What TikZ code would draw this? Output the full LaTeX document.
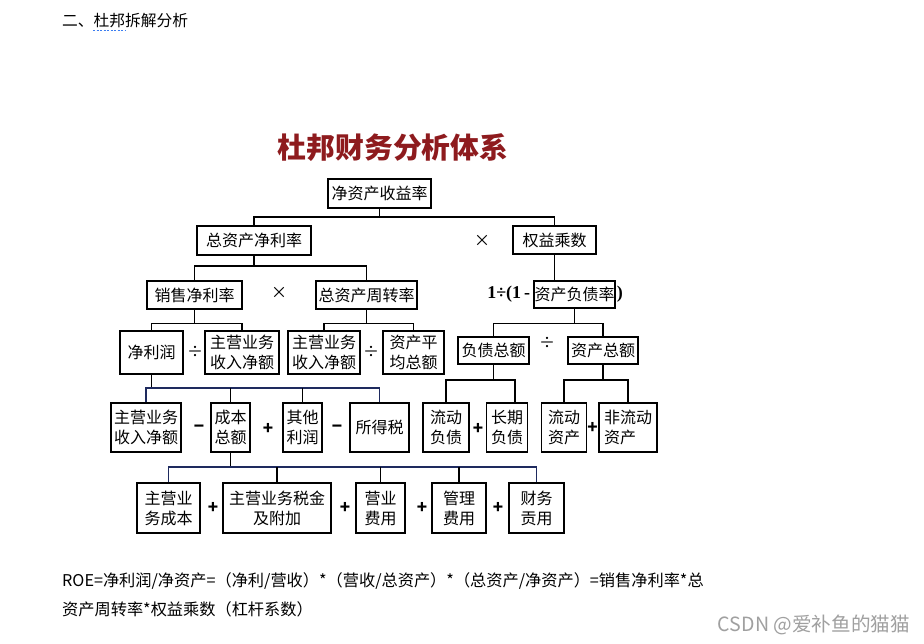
\documentclass[tikz,border=0pt]{standalone}
\usepackage{fontspec}
\setmainfont{Noto Sans CJK SC}
\newfontfamily\tms{Liberation Serif}
\definecolor{titlered}{HTML}{8E1B1E}
\definecolor{navy}{HTML}{1E2A5E}
\definecolor{wmgray}{HTML}{A0A0A0}
\definecolor{spell}{HTML}{3C7DF0}
\begin{document}
\begin{tikzpicture}[x=1pt,y=-1pt,
  bx/.style 2 args={draw, line width=1.3pt, inner sep=0pt, align=center,
     minimum width=#1pt, minimum height=#2pt,
     font=\fontsize{16}{20}\selectfont},
  op/.style={inner sep=0pt, font=\fontsize{16}{16}\selectfont},
  bop/.style={inner sep=0pt, font=\fontsize{17}{17}\selectfont\bfseries},
  ln/.style={line width=1.2pt},
  nln/.style={line width=1.4pt, draw=navy},
  txt/.style={anchor=base west, inner sep=0pt, font=\fontsize{16.2}{17}\selectfont}
]
\useasboundingbox (0,0) rectangle (924,643);
\fill[white] (0,0) rectangle (924,643);

% header and footer texts
\node[txt, font=\fontsize{15.75}{16}\selectfont] (hdr) at (62,26) {二、杜邦拆解分析};
\draw[spell, line width=0.8pt, dash pattern=on 2pt off 1.5pt] (93,30.5) -- (125,30.5);
\node[inner sep=0pt, text=titlered, font=\fontsize{28.8}{29}\selectfont\bfseries] (title) at (393,148) {杜邦财务分析体系};
\node[txt] (f1) at (62,586) {ROE=净利润/净资产=（净利/营收）*（营收/总资产）*（总资产/净资产）=销售净利率*总};
\node[txt] (f2) at (62,615) {资产周转率*权益乘数（杠杆系数）};
\node[anchor=base east, inner sep=0pt, text=wmgray, font=\fontsize{19.6}{20}\selectfont] (wm) at (910,631) {CSDN @爱补鱼的猫猫};

% level 0-2
\node[bx={103}{29}] (roe) at (379.5,193.5) {净资产收益率};
\node[bx={114}{29}] (zzjl) at (254,240.5) {总资产净利率};
\node[bx={83}{28}] (qycs) at (554.5,240) {权益乘数};
\node[op] (x1) at (482,241) {×};
\node[bx={95}{28}] (xsjl) at (194.5,295) {销售净利率};
\node[op] (x2) at (279,293) {×};
\node[bx={101}{28}] (zzzz) at (366.5,295) {总资产周转率};
\node[bx={81}{27}] (zcfz) at (574.5,294.5) {资产负债率};
\node[anchor=east, inner sep=0pt, font=\tms\fontsize{18}{18}\selectfont\bfseries] (pre) at (zcfz.west) {1÷(1\,-\,};
\node[anchor=west, inner sep=1pt, font=\tms\fontsize{18}{18}\selectfont\bfseries] (post) at (zcfz.east) {)};

% level 3
\node[bx={63}{43}] (jlr) at (151.5,352.5) {净利润};
\node[op] (d1) at (195,352) {÷};
\node[bx={74}{43}] (zy1) at (242,352.5) {主营业务\\收入净额};
\node[bx={72}{43}] (zy2) at (324,352.5) {主营业务\\收入净额};
\node[op] (d2) at (371,352) {÷};
\node[bx={61}{43}] (zcpj) at (413.5,352.5) {资产平\\均总额};
\node[bx={71}{27}] (fzze) at (493.5,350.5) {负债总额};
\node[op] (d3) at (547,343) {÷};
\node[bx={70}{27}] (zcze) at (603,350.5) {资产总额};

% level 4
\node[bx={70}{49}] (ra) at (146,427.5) {主营业务\\收入净额};
\node[bop] (oa) at (199,429) {−};
\node[bx={39}{49}] (rb) at (230.5,427.5) {成本\\总额};
\node[bop] (ob) at (268,429) {+};
\node[bx={39}{49}] (rc) at (302.5,427.5) {其他\\利润};
\node[bop] (oc) at (337,429) {−};
\node[bx={59}{49}] (rd) at (379.5,427.5) {所得税};
\node[bx={46}{49}] (ldfz) at (446,427.5) {流动\\负债};
\node[bop] (od) at (478,429) {+};
\node[bx={41}{49}] (cqfz) at (507,427.5) {长期\\负债};
\node[bx={45}{49}] (ldzc) at (564,427.5) {流动\\资产};
\node[bop] (oe) at (592.5,428) {+};
\node[bx={58}{49}, align=left] (fldzc) at (628,427.5) {非流动\\资产};

% level 5
\node[bx={63}{50}] (sa) at (168.5,508) {主营业\\务成本};
\node[bop] (pa) at (213,508) {+};
\node[bx={108}{50}] (sb) at (277,508) {主营业务税金\\及附加};
\node[bop] (pb) at (345,508) {+};
\node[bx={49}{50}] (sc) at (380.5,508) {营业\\费用};
\node[bop] (pc) at (422,508) {+};
\node[bx={54}{50}] (sd) at (459,508) {管理\\费用};
\node[bop] (pd) at (498,508) {+};
\node[bx={55}{50}] (se) at (536.5,508) {财务\\贡用};

% connectors
\draw[ln] (roe.south) -- (roe.south |- 0,217) coordinate (b0);
\draw[ln] (zzjl.north) |- (b0) -| (qycs.north);
\draw[ln] (zzjl.south) -- (zzjl.south |- 0,266) coordinate (b1);
\draw[ln] (xsjl.north) |- (b1) -| (zzzz.north);
\draw[ln] (qycs.south) -- (qycs.south |- zcfz.north);
\draw[ln] (xsjl.south) -- (xsjl.south |- 0,323.5) coordinate (b2);
\draw[ln] (jlr.north) |- (b2) -| (zy1.north);
\draw[ln] (zzzz.south) -- (zzzz.south |- 0,323.5) coordinate (b3);
\draw[ln] (zy2.north) |- (b3) -| (zcpj.north);
\draw[ln] (zcfz.south) -- (zcfz.south |- 0,323.5) coordinate (b4);
\draw[ln] (fzze.north) |- (b4) -| (zcze.north);
% level 4 connectors
\draw[ln] (jlr.south) -- (jlr.south |- 0,388) coordinate (b5);
\draw[nln] (ra.north) |- (b5) -| (rd.north);
\draw[ln] (rb.north) -- (rb.north |- b5);
\draw[ln] (rc.north) -- (rc.north |- b5);
\draw[ln] (fzze.south) -- (fzze.south |- 0,380) coordinate (b6);
\draw[ln] (ldfz.north) |- (b6) -| ([xshift=8pt]cqfz.north);
\draw[ln] (zcze.south) -- (zcze.south |- 0,380) coordinate (b7);
\draw[ln] (ldzc.north) |- (b7) -| (fldzc.north);
% level 5 connectors
\draw[ln] (rb.south) -- (rb.south |- 0,467) coordinate (b8);
\draw[nln] (sa.north) |- (b8) -| (se.north);
\draw[ln] (sb.north) -- (sb.north |- b8);
\draw[ln] (sc.north) -- (sc.north |- b8);
\draw[ln] (sd.north) -- (sd.north |- b8);
\end{tikzpicture}
\end{document}
